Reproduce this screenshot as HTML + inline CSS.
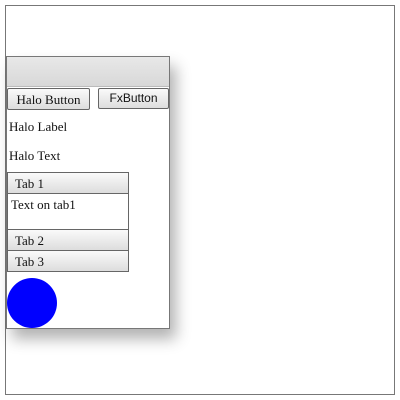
<!DOCTYPE html>
<html><head><style>
body{margin:0;width:400px;height:400px;background:#fff;position:relative;font-family:"Liberation Serif",serif;font-size:13px;color:#111;overflow:hidden}
div{position:absolute;box-sizing:border-box}
.g{background:linear-gradient(#fafafa,#ddd);border:1px solid #666}
.t{line-height:21px;padding-left:7px}
</style></head><body>
<div style="left:5px;top:5px;width:390px;height:390px;border:1px solid #777"></div>
<div style="left:6px;top:56px;width:164px;height:273px;border:1px solid #777;background:#fff;box-shadow:6px 10px 14px rgba(0,0,0,0.3)"></div>
<div style="left:7px;top:57px;width:162px;height:30px;background:linear-gradient(#e8e8e8,#d8d8d8);border-bottom:1px solid #bbb"></div>
<div class="g" style="left:7px;top:88px;width:83px;height:22px;border-radius:2px;text-align:center;line-height:21px">Halo Button</div>
<div class="g" style="left:98px;top:88px;width:71px;height:21px;border-radius:2px;text-align:center;line-height:19px;font-family:'Liberation Sans',sans-serif;font-size:12px">FxButton</div>
<div style="left:9px;top:119px">Halo Label</div>
<div style="left:9px;top:148px">Halo Text</div>
<div class="g t" style="left:7px;top:172px;width:122px;height:22px">Tab 1</div>
<div style="left:7px;top:193px;width:122px;height:37px;border:1px solid #666;border-top:none;padding:4px 3px">Text on tab1</div>
<div class="g t" style="left:7px;top:229px;width:122px;height:22px">Tab 2</div>
<div class="g t" style="left:7px;top:250px;width:122px;height:22px">Tab 3</div>
<div style="left:7px;top:278px;width:50px;height:50px;border-radius:50%;background:#00f"></div>
</body></html>
